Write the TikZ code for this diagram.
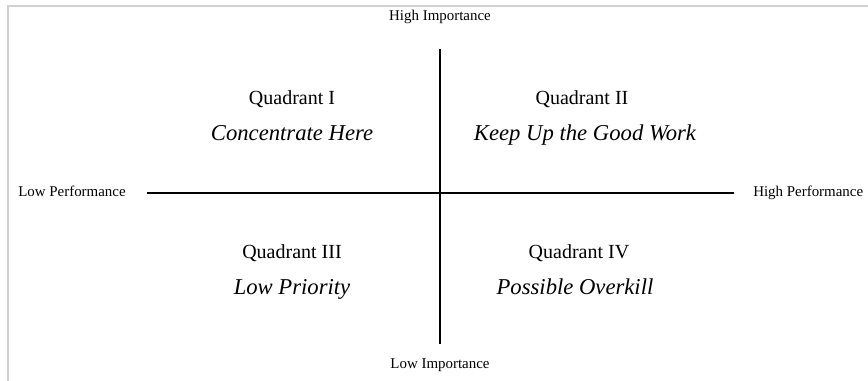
\documentclass[tikz,border=0pt]{standalone}
\usepackage{fontspec}
\setmainfont{Liberation Serif}
\begin{document}
\begin{tikzpicture}[x=0.75pt,y=-0.75pt,
  axislabel/.style={inner sep=0pt,anchor=base,font=\fontsize{11.2}{13}\selectfont},
  quadtitle/.style={inner sep=0pt,anchor=base,font=\fontsize{15}{18}\selectfont},
  quadmotto/.style={inner sep=0pt,anchor=base,font=\fontsize{17}{20}\selectfont\itshape},
  axis/.style={line width=1.5pt,black},
  frameline/.style={line width=1.2pt,black!18}]
\useasboundingbox (0,0) rectangle (868,381);
\draw[frameline] (8,381) -- (8,6) -- (868,6);
% axes
\coordinate (vtop) at (440,49);
\coordinate (vbot) at (440,344);
\coordinate (hleft) at (147,193);
\coordinate (hright) at (734,193);
\draw[axis] (vtop) -- (vbot);
\draw[axis] (hleft) -- (hright);
% axis labels
\node[axislabel] (hi) at (440,21) {High Importance};
\node[axislabel] (li) at (440,368) {Low Importance};
\node[axislabel,anchor=base west] (lp) at (18,197) {Low Performance};
\node[axislabel,anchor=base west] (hp) at (753,197) {High Performance};
% quadrants
\node[quadtitle] (q1) at (292,105) {Quadrant I};
\node[quadmotto] (m1) at (292,141) {Concentrate Here};
\node[quadtitle] (q2) at (582,105) {Quadrant II};
\node[quadmotto] (m2) at (585,141) {Keep Up the Good Work};
\node[quadtitle] (q3) at (292,258) {Quadrant III};
\node[quadmotto] (m3) at (292,295) {Low Priority};
\node[quadtitle] (q4) at (579,258) {Quadrant IV};
\node[quadmotto] (m4) at (575,295) {Possible Overkill};
\end{tikzpicture}
\end{document}
